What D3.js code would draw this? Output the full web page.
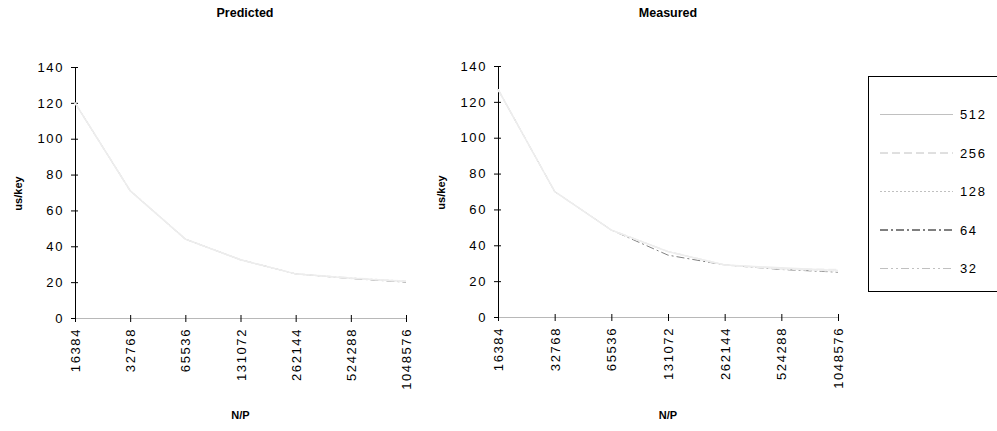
<!DOCTYPE html>
<html>
<head>
<meta charset="utf-8">
<script src="https://cdn.jsdelivr.net/npm/d3@7"></script>
<style>
  html, body { margin: 0; padding: 0; background: #fff; }
  svg { display: block; font-family: Arial, "Liberation Sans", sans-serif; }
</style>
</head>
<body>
<svg id="chart" width="997" height="431"></svg>
<script>
// N/P categories shared by both panels
const categories = ["16384", "32768", "65536", "131072", "262144", "524288", "1048576"];
const seriesNames = ["512", "256", "128", "64", "32"];
const yTicks = [0, 20, 40, 60, 80, 100, 120, 140];

// Predicted us/key per series
const predicted512 = [120, 71, 44, 32.5, 24.6, 22.2, 20.3];
const predicted256 = [120, 71, 44, 32.5, 24.6, 22.2, 20.4];
const predicted128 = [120, 71, 44, 32.5, 24.6, 22.3, 20.5];
const predicted64  = [120, 71, 44, 32.5, 24.6, 22.0, 20.0];
const predicted32  = [120, 71, 44, 32.5, 24.6, 22.4, 20.6];

// Measured us/key per series
const measured512 = [127, 70, 48.5, 36.5, 29, 27.5, 26];
const measured256 = [127, 70, 48.5, 36.5, 29, 27.0, 26.5];
const measured128 = [127, 70, 48.5, 36.5, 29, 27.0, 25.5];
const measured64  = [127, 70, 48.5, 34.5, 29, 26.5, 25.0];
const measured32  = [127, 70, 48.5, 36.5, 29, 26.8, 25.6];

const styles = {
  "512": { color: "#ededed", legend: "#c0c0c0", dash: null },
  "256": { color: "#ededed", legend: "#c0c0c0", dash: "8,4" },
  "128": { color: "#ededed", legend: "#c0c0c0", dash: "2,2" },
  "64":  { color: "#000000", legend: "#000000", dash: "8,3,2,3" },
  "32":  { color: "#ededed", legend: "#c0c0c0", dash: "8,3,2,3,2,3" }
};
// series are painted in this order, so the solid 512 line ends up on top
const drawOrder = ["64", "32", "128", "256", "512"];

const svg = d3.select("#chart");

function panel(opts) {
  const x = d3.scalePoint().domain(categories).range([opts.x0, opts.x1]);
  const y = d3.scaleLinear().domain([0, 140]).range([opts.yBottom, opts.yTop]);
  const g = svg.append("g");

  // title
  g.append("text")
    .attr("x", opts.titleX).attr("y", 17)
    .attr("text-anchor", "middle")
    .attr("font-size", 12.5).attr("font-weight", "bold")
    .text(opts.title);

  // y axis
  const yAxis = g.append("g")
    .attr("transform", `translate(${opts.x0},0)`)
    .call(d3.axisLeft(y).tickValues(yTicks).tickSize(4).tickSizeOuter(0));
  yAxis.select(".domain").attr("stroke", "#000");
  yAxis.selectAll(".tick line").attr("stroke", "#000").attr("x2", 3).attr("x1", -4);
  yAxis.selectAll(".tick text")
    .attr("font-size", 13).attr("font-family", "Arial, 'Liberation Sans', sans-serif")
    .attr("letter-spacing", "1.6px").attr("x", -11).attr("fill", "#000");

  // x axis
  const xAxis = g.append("g")
    .attr("transform", `translate(0,${opts.yBottom})`)
    .call(d3.axisBottom(x).tickSize(4).tickSizeOuter(0));
  xAxis.select(".domain").attr("stroke", "#b8b8b8");
  xAxis.selectAll(".tick line").attr("stroke", "#000").attr("y1", -3).attr("y2", 4);
  xAxis.selectAll(".tick text")
    .attr("font-size", 13).attr("font-family", "Arial, 'Liberation Sans', sans-serif")
    .attr("letter-spacing", "1.6px").attr("fill", "#000")
    .attr("text-anchor", "end")
    .attr("transform", "rotate(-90)")
    .attr("x", -10).attr("y", 0).attr("dy", "0.35em");

  // axis titles
  g.append("text")
    .attr("x", (opts.x0 + opts.x1) / 2).attr("y", 419)
    .attr("text-anchor", "middle")
    .attr("font-size", 11).attr("font-weight", "bold")
    .text("N/P");
  g.append("text")
    .attr("transform", `translate(${opts.yTitleX},${(opts.yTop + opts.yBottom) / 2 + 1}) rotate(-90)`)
    .attr("text-anchor", "middle")
    .attr("font-size", 11).attr("font-weight", "bold")
    .text("us/key");

  // series lines
  const line = d3.line()
    .x((d, i) => x(categories[i]))
    .y(d => y(d));
  drawOrder.forEach(name => {
    const k = seriesNames.indexOf(name);
    g.append("path")
      .datum(opts.series[k])
      .attr("fill", "none")
      .attr("stroke", styles[name].color)
      .attr("stroke-width", name === "64" ? 0.5 : 1.4)
      .attr("stroke-dasharray", styles[name].dash)
      .attr("d", line);
  });
}

panel({
  title: "Predicted", titleX: 245,
  x0: 75, x1: 406, yTop: 67, yBottom: 318, yTitleX: 22,
  series: [predicted512, predicted256, predicted128, predicted64, predicted32]
});

panel({
  title: "Measured", titleX: 668,
  x0: 498, x1: 838, yTop: 66, yBottom: 317, yTitleX: 445,
  series: [measured512, measured256, measured128, measured64, measured32]
});

// legend
const legend = svg.append("g");
legend.append("rect")
  .attr("x", 868.5).attr("y", 76.5)
  .attr("width", 140).attr("height", 215)
  .attr("fill", "#fff").attr("stroke", "#000").attr("stroke-width", 1);
const legendY = d3.scalePoint().domain(seriesNames).range([114, 268]);
seriesNames.forEach(name => {
  legend.append("line")
    .attr("x1", 880).attr("x2", 953)
    .attr("y1", legendY(name) + 0.5).attr("y2", legendY(name) + 0.5)
    .attr("stroke", styles[name].legend)
    .attr("stroke-width", 1)
    .attr("stroke-dasharray", styles[name].dash);
  legend.append("text")
    .attr("x", 960).attr("y", legendY(name) + 5)
    .attr("font-size", 13).attr("letter-spacing", "1.6px")
    .text(name);
});
</script>
</body>
</html>
